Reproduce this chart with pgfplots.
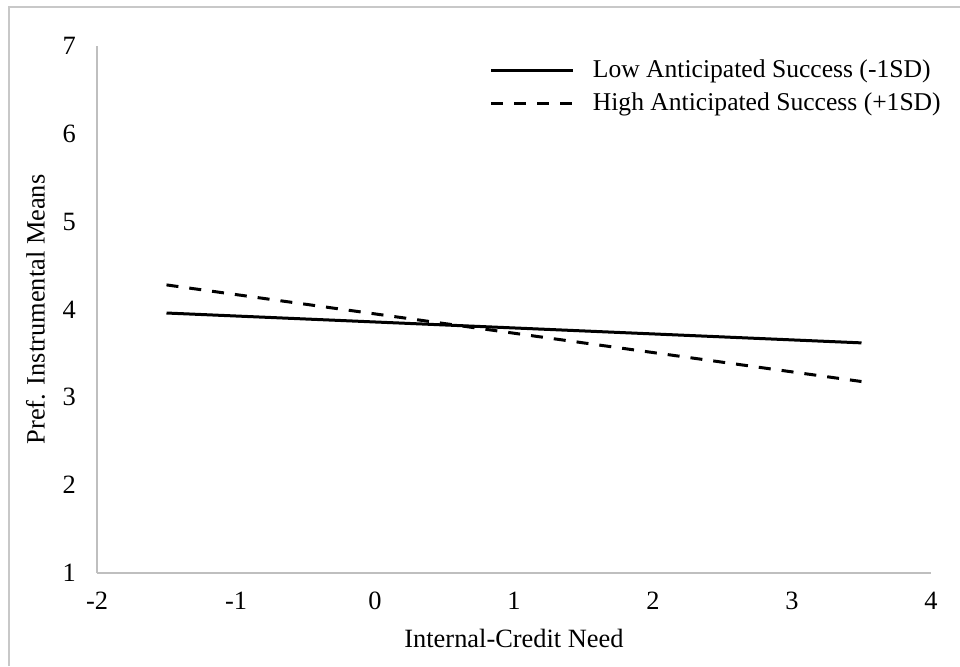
\documentclass[border=0pt]{standalone}
\usepackage{pgfplots}
\pgfplotsset{compat=1.18}
\usepackage{fontspec}
\setmainfont{Liberation Serif}
\begin{document}
\fontsize{13}{15.6}\selectfont
\begin{tikzpicture}[x=0.5pt,y=0.5pt]
\useasboundingbox (0,0) rectangle (960,666);
\draw[color={rgb,255:red,200;green,200;blue,200},line width=1pt] (9,0) -- (9,659) -- (960,659);
\begin{axis}[
  at={(48.5pt,46.5pt)}, anchor=south west,
  width=417pt, height=263.5pt, scale only axis,
  xmin=-2, xmax=4, ymin=1, ymax=7,
  xtick={-2,-1,0,1,2,3,4},
  xticklabels={-2,-1,0,1,2,3,4},
  ytick={1,2,3,4,5,6,7},
  yticklabels={1,2,3,4,5,6,7},
  axis x line*=bottom, axis y line*=left,
  axis line style={color={rgb,255:red,191;green,191;blue,191},line width=1pt,-},
  major tick length=0pt,
  xticklabel style={yshift=-5pt},
  yticklabel style={xshift=-6pt},
  tick label style={font=\fontsize{13.2}{15.8}\selectfont},
  label style={font=\fontsize{13.2}{15.8}\selectfont},
  xlabel={Internal-Credit Need},
  ylabel={Pref. Instrumental Means},
  xlabel style={yshift=-1pt},
  ylabel style={yshift=0pt},
  legend style={draw=none, fill=none, at={(1.017,0.99)}, anchor=north east,
    font=\fontsize{12.8}{15.4}\selectfont, row sep=1.5pt, inner xsep=0pt,
    legend cell align=left},
  legend image code/.code={\draw[#1, line width=1.5pt] (0pt,0pt) -- (41pt,0pt); \path (48pt,0pt);},
]
\addplot[black, line width=1.5pt] coordinates {(-1.5,3.96) (3.5,3.62)};
\addlegendentry{Low Anticipated Success (-1SD)}
\addplot[black, line width=1.5pt, dash pattern=on 6pt off 5.5pt] coordinates {(-1.5,4.28) (3.5,3.18)};
\addlegendentry{High Anticipated Success (+1SD)}
\end{axis}
\end{tikzpicture}
\end{document}
